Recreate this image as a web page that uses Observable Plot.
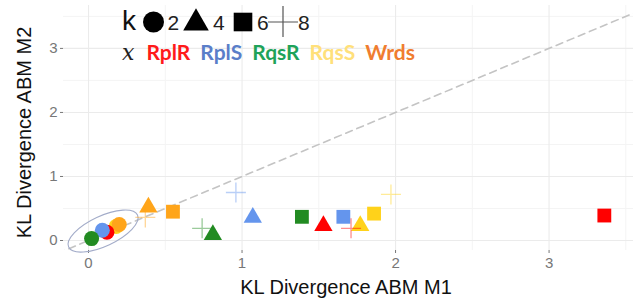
<!DOCTYPE html>
<html><head><meta charset="utf-8">
<script src="https://cdn.jsdelivr.net/npm/d3@7"></script>
<script src="https://cdn.jsdelivr.net/npm/@observablehq/plot@0.6"></script>
<style>
body{margin:0;background:#fff}
#wrap{position:relative;width:640px;height:304px;overflow:hidden}
#row1{position:absolute;left:0;top:0}
#row2{position:absolute;left:122px;top:39px;display:flex;align-items:baseline;gap:10px;font-family:Lato,"Open Sans",sans-serif;font-weight:700;font-size:21px;white-space:nowrap}
#row2 .xlab{font-family:"DejaVu Serif","Liberation Serif",serif;font-style:italic;font-weight:400;font-size:22px;color:#222;margin-right:2px}
</style></head><body><div id="wrap"></div>
<script>
// ---- data ----
const genes = ["RplR", "RplS", "RqsR", "RqsS", "Wrds"];
const geneColors = ["#ff0000", "#6495ed", "#228b22", "#ffd21a", "#ffa51a"];
const legendTextColors = ["#ff1a1a", "#5a7ec9", "#1fa35a", "#ffe07a", "#f07d30"];
const kValues = [2, 4, 6, 8];
const kSymbols = ["circle", "triangle", "square", "cross"];
const xTicks = [0, 1, 2, 3];
const yTicks = [0, 1, 2, 3];
const minorTicks = [0.5, 1.5, 2.5, 3.5];

// one entry per point (draw order)
const pointGene = ["RqsS","Wrds","RplR","RplS","RqsR",
                   "Wrds","RqsR","RplS","RplR","RqsS",
                   "Wrds","RqsR","RplS","RqsS","RplR",
                   "Wrds","RqsR","RplS","RqsS","RplR"];
const pointK    = [2,2,2,2,2,
                   4,4,4,4,4,
                   6,6,6,6,6,
                   8,8,8,8,8];
const pointM1   = [0.18,0.20,0.12,0.09,0.02,
                   0.39,0.81,1.07,1.53,1.77,
                   0.55,1.39,1.66,1.86,3.36,
                   0.37,0.74,0.96,1.97,1.71];
const pointM2   = [0.22,0.25,0.13,0.16,0.03,
                   0.52,0.09,0.36,0.23,0.23,
                   0.45,0.37,0.37,0.42,0.39,
                   0.36,0.19,0.75,0.72,0.19];

const points = pointGene.map((g, i) => ({gene: g, k: pointK[i], m1: pointM1[i], m2: pointM2[i]}));
const colorOf = g => geneColors[genes.indexOf(g)];
const diag = [-0.2, 3.7];

const crossSymbol = {
  draw(ctx, size) {
    const r = Math.sqrt(size / Math.PI);
    ctx.moveTo(-r, 0); ctx.lineTo(r, 0);
    ctx.moveTo(0, -r); ctx.lineTo(0, r);
  }
};

const byK = k => points.filter(d => d.k === k);

const titles = (index, scales, values, dim) => {
  const g = d3.create("svg:g").attr("font-family", "'Liberation Sans', Arial, sans-serif").attr("font-size", 20).attr("fill", "#111");
  g.append("text").attr("x", (dim.marginLeft + dim.width - dim.marginRight) / 2 - 2).attr("y", dim.height - 10)
    .attr("text-anchor", "middle").text("KL Divergence ABM M1");
  g.append("text").attr("transform", `translate(31,${(dim.marginTop + dim.height - dim.marginBottom) / 2 + 5}) rotate(-90)`)
    .attr("text-anchor", "middle").text("KL Divergence ABM M2");
  return g.node();
};

const ellipse = (index, scales) => {
  const cx = scales.x(0.098), cy = scales.y(0.14);
  return d3.create("svg:ellipse").attr("cx", cx).attr("cy", cy).attr("rx", 38).attr("ry", 15)
    .attr("transform", `rotate(-25,${cx},${cy})`)
    .attr("fill", "none").attr("stroke", "#a3acc9").attr("stroke-width", 1.1).node();
};

const chart = Plot.plot({
  width: 640, height: 304,
  marginLeft: 63, marginRight: 7, marginTop: 5, marginBottom: 54,
  style: {fontFamily: "'Liberation Sans', Arial, sans-serif", fontSize: "14px", background: "#fff"},
  x: {domain: [-0.163, 3.55], label: null},
  y: {domain: [-0.156, 3.67], label: null},
  marks: [
    Plot.ruleX(minorTicks, {stroke: "#f4f4f4", strokeWidth: 1}),
    Plot.ruleY(minorTicks, {stroke: "#f4f4f4", strokeWidth: 1}),
    Plot.ruleX(xTicks, {stroke: "#ebebeb", strokeWidth: 1.1}),
    Plot.ruleY(yTicks, {stroke: "#ebebeb", strokeWidth: 1.1}),
    Plot.axisX({ticks: xTicks, tickFormat: d => String(d), tickSize: 3, tickPadding: 4, color: "#777", fontSize: 15, label: null}),
    Plot.axisY({ticks: yTicks, tickFormat: d => String(d), tickSize: 3, tickPadding: 3, color: "#777", fontSize: 15, label: null}),
    Plot.line(diag, {x: d => d, y: d => d, stroke: "#c4c4c4", strokeWidth: 1.6, strokeDasharray: "7,5", clip: true}),
    ellipse,
    Plot.dot(byK(2), {x: "m1", y: "m2", r: 7.5, symbol: "circle", fill: d => colorOf(d.gene), stroke: "none"}),
    Plot.dot(byK(4), {x: "m1", y: "m2", r: 6.8, symbol: "triangle", fill: d => colorOf(d.gene), stroke: "none"}),
    Plot.dot(byK(6), {x: "m1", y: "m2", r: 7.8, symbol: "square", fill: d => colorOf(d.gene), stroke: "none"}),
    Plot.dot(byK(8), {x: "m1", y: "m2", r: 10, symbol: crossSymbol, fill: "none", stroke: d => colorOf(d.gene), strokeWidth: 1.3, strokeOpacity: 0.45}),
    titles
  ]
});

const wrap = document.getElementById("wrap");
wrap.appendChild(chart);

// ---- legend row 1: k shapes ----
const row1 = d3.select(wrap).append("svg").attr("id", "row1").attr("width", 640).attr("height", 40);
row1.append("text").attr("x", 122).attr("y", 30).attr("font-family", "'Liberation Sans', Arial, sans-serif")
  .attr("font-size", 28).attr("fill", "#111").text("k");
const centers = [153.5, 196, 243, 283];
const labelOffsets = [14, 17, 14, 15];
const legendSizes = [10.5, 9.5, 10.5, 15];
kValues.forEach((k, i) => {
  const cx = centers[i], cy = 22;
  if (kSymbols[i] === "cross") {
    row1.append("path").attr("d", `M${cx - 15},${cy}H${cx + 15}M${cx},${cy - 16}V${cy + 15}`)
      .attr("stroke", "#555").attr("stroke-width", 1.2).attr("fill", "none");
  } else {
    const sym = {circle: d3.symbolCircle, triangle: d3.symbolTriangle, square: d3.symbolSquare}[kSymbols[i]];
    const r = legendSizes[i];
    row1.append("path").attr("d", d3.symbol(sym, Math.PI * r * r)())
      .attr("transform", `translate(${cx},${cy + (kSymbols[i] === "triangle" ? 1 : 0)})`).attr("fill", "#000");
  }
  row1.append("text").attr("x", cx + labelOffsets[i]).attr("y", 30)
    .attr("font-family", "'Liberation Sans', Arial, sans-serif").attr("font-size", 21).attr("fill", "#222").text(k);
});

// ---- legend row 2: genes ----
const row2 = d3.select(wrap).append("div").attr("id", "row2");
row2.append("span").attr("class", "xlab").text("𝑥");
genes.forEach((g, i) => row2.append("span").style("color", legendTextColors[i]).text(g));
</script></body></html>
